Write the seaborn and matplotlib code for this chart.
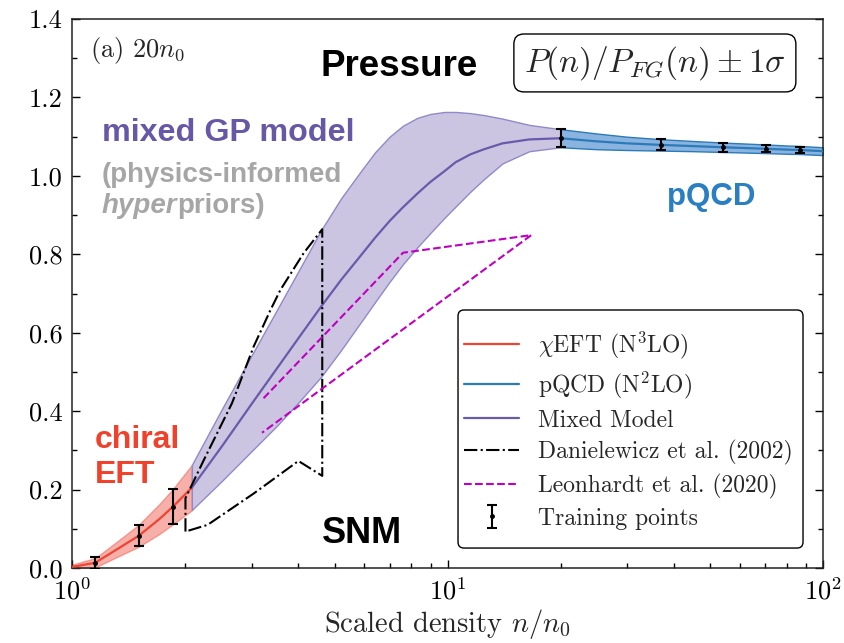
import numpy as np
import pandas as pd
import matplotlib
matplotlib.use("Agg")
import matplotlib.pyplot as plt
import seaborn as sns
from matplotlib.patches import FancyBboxPatch
from matplotlib.ticker import MultipleLocator, FormatStrFormatter, LogLocator, NullFormatter

# ---------------- data ----------------
# chiral EFT band
n_eft = [1.0, 1.15, 1.3, 1.5, 1.7, 1.85, 2.08]
p_eft = [0.003, 0.0135, 0.045, 0.082, 0.124, 0.156, 0.205]
sd_eft = [0.006, 0.012, 0.019, 0.028, 0.038, 0.045, 0.058]

# mixed GP model
n_gp = [2.08, 2.5, 3.0, 3.5, 4.0, 4.6, 5.2, 5.9, 6.4, 7.0, 7.6, 8.3, 9.0, 9.8,
        10.5, 11.5, 12.5, 14, 16.5, 20]
p_gp = [0.205, 0.31, 0.418, 0.508, 0.586, 0.667, 0.735, 0.80, 0.842, 0.885, 0.92,
        0.955, 0.985, 1.012, 1.035, 1.055, 1.068, 1.083, 1.093, 1.096]
lo_gp = [0.148, 0.222, 0.298, 0.362, 0.422, 0.488, 0.556, 0.63, 0.678, 0.73, 0.775,
         0.818, 0.855, 0.893, 0.922, 0.96, 0.992, 1.032, 1.063, 1.073]
hi_gp = [0.263, 0.405, 0.542, 0.657, 0.757, 0.862, 0.943, 1.015, 1.06, 1.10, 1.128,
         1.148, 1.158, 1.163, 1.163, 1.160, 1.155, 1.146, 1.13, 1.119]

# pQCD band
n_qcd = [20, 25, 30, 37, 45, 54, 62, 71, 80, 87, 100]
p_qcd = [1.096, 1.088, 1.083, 1.079, 1.076, 1.073, 1.071, 1.069, 1.067, 1.066, 1.063]
sd_qcd = [0.023, 0.020, 0.017, 0.0145, 0.013, 0.012, 0.0115, 0.011, 0.0105, 0.0103, 0.010]

# training points
n_tr_eft = [1.15, 1.5, 1.85]
p_tr_eft = [0.0135, 0.082, 0.156]
e_tr_eft = [0.015, 0.027, 0.045]
n_tr_qcd = [20, 37, 54, 70.5, 87]
p_tr_qcd = [1.096, 1.079, 1.073, 1.069, 1.066]
e_tr_qcd = [0.023, 0.014, 0.011, 0.009, 0.008]

# Danielewicz et al. (2002) contour
n_dan = [2.0, 2.0, 2.24, 2.66, 3.04, 3.37, 3.58, 4.13, 4.63, 4.63, 4.0, 3.04, 2.29, 2.0]
p_dan = [0.093, 0.178, 0.276, 0.42, 0.565, 0.658, 0.709, 0.803, 0.864, 0.235, 0.273,
         0.19, 0.110, 0.093]

# Leonhardt et al. (2020) contour
n_leo = [3.23, 7.6, 16.7, 3.2]
p_leo = [0.433, 0.804, 0.849, 0.345]

labels = [r"$\chi$EFT (N$^3$LO)", r"pQCD (N$^2$LO)", "Mixed Model",
          "Danielewicz et al. (2002)", "Leonhardt et al. (2020)", "Training points"]

# ---------------- style ----------------
sns.set_theme(style="ticks")
plt.rcParams.update({
    "font.family": "serif",
    "font.serif": ["cmr10"],
    "mathtext.fontset": "cm",
    "axes.unicode_minus": False,
    "axes.formatter.use_mathtext": True,
})

RED = "#ee4433"
BLUE = "#2b7bba"
PURPLE = "#6a5aaa"

fig = plt.figure(figsize=(8.44, 6.43), dpi=100)
ax = fig.add_axes([0.0859, 0.1166, 0.8892, 0.8538])
ax.set_xscale("log")

a_eft = np.array(p_eft); s_eft = np.array(sd_eft)
a_qcd = np.array(p_qcd); s_qcd = np.array(sd_qcd)

ax.fill_between(n_eft, a_eft - s_eft, a_eft + s_eft, facecolor=RED, alpha=0.42,
                edgecolor=RED, lw=1.0, zorder=1)
ax.fill_between(n_gp, lo_gp, hi_gp, facecolor="#cbc5e2", edgecolor="#9189c9",
                lw=1.0, zorder=1)
ax.fill_between(n_qcd, a_qcd - s_qcd, a_qcd + s_qcd, facecolor="#8ab3df",
                edgecolor=BLUE, lw=1.0, zorder=1)

sns.lineplot(x=n_eft, y=p_eft, ax=ax, color=RED, lw=1.6, label=labels[0],
             sort=False, estimator=None, zorder=3)
sns.lineplot(x=n_qcd, y=p_qcd, ax=ax, color=BLUE, lw=1.6, label=labels[1],
             sort=False, estimator=None, zorder=3)
sns.lineplot(x=n_gp, y=p_gp, ax=ax, color=PURPLE, lw=1.6, label=labels[2],
             sort=False, estimator=None, zorder=3)
sns.lineplot(x=n_dan, y=p_dan, ax=ax, color="black", lw=1.5, linestyle="-.",
             label=labels[3], sort=False, estimator=None, zorder=4)
sns.lineplot(x=n_leo, y=p_leo, ax=ax, color="#c000c0", lw=1.5, linestyle="--",
             label=labels[4], sort=False, estimator=None, zorder=4)

ax.errorbar(n_tr_eft, p_tr_eft, yerr=e_tr_eft, fmt=".", color="black", ms=5,
            capsize=3.5, capthick=1.5, elinewidth=1.5, label=labels[5], zorder=6)
ax.errorbar(n_tr_qcd, p_tr_qcd, yerr=e_tr_qcd, fmt=".", color="black", ms=5,
            capsize=3.5, capthick=1.5, elinewidth=1.5, zorder=6)

# axes
ax.set_xlim(1, 100)
ax.set_ylim(0, 1.4)
ax.yaxis.set_major_locator(MultipleLocator(0.2))
ax.yaxis.set_minor_locator(MultipleLocator(0.1))
ax.yaxis.set_major_formatter(FormatStrFormatter("%.1f"))
ax.xaxis.set_major_locator(LogLocator(base=10))
ax.xaxis.set_minor_locator(LogLocator(base=10, subs=np.arange(2, 10)))
ax.xaxis.set_minor_formatter(NullFormatter())
ax.tick_params(which="both", direction="in", left=True, right=True, bottom=True,
               top=False, labelsize=19, colors="black", width=1.0)
ax.tick_params(which="major", length=6, pad=7)
ax.tick_params(which="minor", length=3.5)
for s in ax.spines.values():
    s.set_color("#222222")
    s.set_linewidth(1.1)
ax.set_xlabel(r"Scaled density $n/n_0$", fontsize=20.5, labelpad=2)
ax.set_ylabel("")

# legend: frame drawn as a rounded box, entries placed inside it
frame = FancyBboxPatch((0.5137, 0.0364), 0.9734 - 0.5137, 0.470 - 0.0364,
                       boxstyle="round,pad=0,rounding_size=0.008",
                       mutation_aspect=1.367, transform=ax.transAxes,
                       facecolor="white", edgecolor="black", lw=1.0, zorder=7)
ax.add_patch(frame)
h, l = ax.get_legend_handles_labels()
leg = ax.legend(h, l, loc="lower right", bbox_to_anchor=(0.9734, 0.0505),
                borderaxespad=0, fontsize=17, frameon=False, handlelength=2.3,
                handletextpad=0.8, labelspacing=0.365, borderpad=0.45)
leg.set_zorder(8)

# annotations
ax.text(0.0233, 0.9435, r"(a) $20n_0$", transform=ax.transAxes, fontsize=19,
        ha="left", va="center")
ax.text(0.776, 0.92, r"$P(n)/P_{FG}(n) \pm 1\sigma$", transform=ax.transAxes,
        fontsize=24, ha="center", va="center",
        bbox=dict(boxstyle="round,pad=0.3", fc="white", ec="black", lw=1.0))

SANS = "Liberation Sans"
ax.text(0.435, 0.914, "Pressure", transform=ax.transAxes, fontsize=26.5,
        family=SANS, weight="bold", ha="center", va="center", color="black")
ax.text(0.386, 0.062, "SNM", transform=ax.transAxes, fontsize=26,
        family=SANS, weight="bold", ha="center", va="center", color="black")
ax.text(0.0393, 0.792, "mixed GP model", transform=ax.transAxes, fontsize=23.2,
        family=SANS, weight="bold", ha="left", va="center", color="#6757a7")
ax.text(0.0393, 0.716, "(physics-informed", transform=ax.transAxes, fontsize=20,
        family=SANS, weight="bold", ha="left", va="center", color="#a6a6a6")
t_h = ax.text(0.0393, 0.66, "hyper", transform=ax.transAxes, fontsize=20,
              family=SANS, weight="bold", style="italic", ha="left", va="center",
              color="#a6a6a6")
ax.annotate("priors)", xy=(1, 0), xycoords=t_h, fontsize=20, family=SANS,
            weight="bold", ha="left", va="bottom", color="#a6a6a6")
ax.text(0.851, 0.676, "pQCD", transform=ax.transAxes, fontsize=22.5,
        family=SANS, weight="bold", ha="center", va="center", color="#2a7ec2")
ax.text(0.03, 0.233, "chiral", transform=ax.transAxes, fontsize=23,
        family=SANS, weight="bold", ha="left", va="center", color="#f0412c")
ax.text(0.03, 0.169, "EFT", transform=ax.transAxes, fontsize=23,
        family=SANS, weight="bold", ha="left", va="center", color="#f0412c")

fig.savefig("out.png", dpi=100)
